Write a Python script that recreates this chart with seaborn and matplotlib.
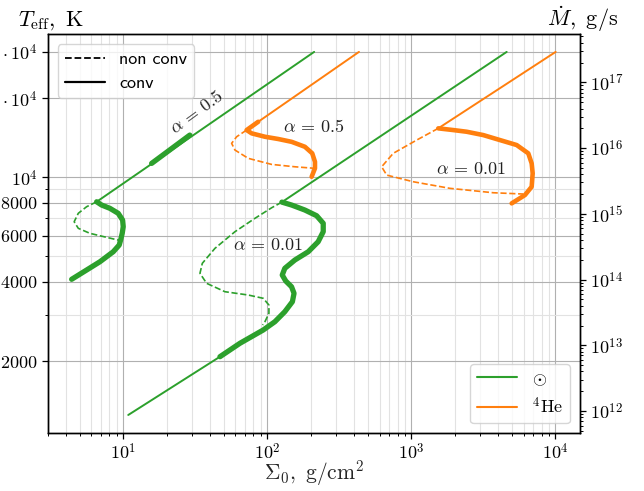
import numpy as np
import pandas as pd
import matplotlib
matplotlib.use("Agg")
import matplotlib.pyplot as plt
import seaborn as sns
from matplotlib.lines import Line2D
from matplotlib.ticker import FixedLocator, FixedFormatter, LogLocator, NullFormatter

# ---------------- data (Sigma_0 in g/cm^2, T_eff in K) ----------------
# Solar composition, alpha = 0.5
g05_thin_S = [211, 6.52]
g05_thin_T = [30000, 8075]
g05_band_S = [15.7, 28.9]
g05_band_T = [11300, 14480]
g05_conv_S = [6.52, 7.06, 8.06, 9.20, 9.87, 9.97, 9.81, 9.56, 9.35, 8.50, 6.87, 5.55, 4.37]
g05_conv_T = [8075, 7846, 7623, 7298, 6880, 6490, 6125, 5776, 5528, 5213, 4776, 4441, 4095]
g05_nonc_S = [6.52, 5.55, 4.86, 4.55, 4.86, 5.85, 7.64, 9.61]
g05_nonc_T = [8075, 7731, 7298, 6780, 6400, 6125, 5913, 5741]

# Solar composition, alpha = 0.01
g001_thin_S = [4583, 126]
g001_thin_T = [30000, 8050]
g001_low_S = [46.8, 10.8]
g001_low_T = [2079, 1248]
g001_conv_S = [126, 147.3, 182, 219.6, 244, 244, 225, 192, 155, 132, 126.7, 134, 147,
               153, 149, 132, 112.7, 93.5, 64.4, 46.8]
g001_conv_T = [8050, 7846, 7510, 7145, 6686, 6213, 5690, 5213, 4848, 4508, 4251, 4034, 3837,
               3622, 3365, 3083, 2825, 2627, 2338, 2079]
g001_nonc_S = [126, 107, 81.9, 59.5, 43.2, 35.3, 34.0, 37.8, 50.7, 73.6, 93.5, 102.4, 102.4,
               96.1, 92.6]
g001_nonc_T = [8050, 7663, 6985, 6213, 5370, 4710, 4315, 3954, 3673, 3568, 3467, 3268, 3040,
               2825, 2744]

# Helium, alpha = 0.5
he05_thin_S = [432, 86.3]
he05_thin_T = [30000, 16270]
he05_conv_S = [86.3, 71.7, 77.7, 96.1, 118.9, 147.2, 182, 204.7, 213.8, 213.8, 202.7]
he05_conv_T = [16270, 15130, 14700, 14270, 13990, 13650, 13070, 12340, 11460, 10820, 10050]
he05_nonc_S = [71.7, 61.1, 56.4, 59.5, 73.6, 107, 155.2, 213.8]
he05_nonc_T = [15130, 14270, 13470, 12700, 11810, 11200, 10970, 10820]

# Helium, alpha = 0.01
he001_thin_S = [10030, 1535]
he001_thin_T = [30000, 15360]
he001_conv_S = [1535, 1951, 2417, 3152, 4118, 5378, 6474, 6834, 6945, 6834, 6140, 4964]
he001_conv_T = [15360, 15130, 14910, 14480, 13860, 13270, 12340, 11300, 10360, 9210, 8565, 7962]
he001_nonc_S = [1535, 1087, 747, 621, 673, 1029, 1851, 3699, 5975]
he001_nonc_T = [15360, 13860, 12340, 10970, 10200, 9622, 9082, 8739, 8641]

# labels
alpha_labels = [r"$\alpha\,=\,0.5$", r"$\alpha\,=\,0.5$", r"$\alpha\,=\,0.01$", r"$\alpha\,=\,0.01$"]
alpha_S = [31.9, 208, 101.3, 2577]
alpha_T = [17710, 15570, 5528, 10730]
alpha_rot = [36, 0, 0, 0]

x_ticks = [10, 100, 1000, 10000]
x_ticklabels = [r"$10^{1}$", r"$10^{2}$", r"$10^{3}$", r"$10^{4}$"]
y_ticks = [2000, 4000, 6000, 8000, 10000, 20000, 30000]
y_ticklabels = [r"$2000$", r"$4000$", r"$6000$", r"$8000$", r"$10^4$", r"$2\cdot10^4$", r"$3\cdot10^4$"]
y_minor = [3000, 5000, 7000, 9000]
mdot_ticks = [1e12, 1e13, 1e14, 1e15, 1e16, 1e17]
mdot_ticklabels = [r"$10^{12}$", r"$10^{13}$", r"$10^{14}$", r"$10^{15}$", r"$10^{16}$", r"$10^{17}$"]

GREEN = "#2ca02c"
ORANGE = "#ff7f0e"

sns.set_style("ticks")
plt.rcParams.update({
    "font.family": ["cmr10", "DejaVu Sans"],
    "mathtext.fontset": "cm",
    "axes.formatter.use_mathtext": True,
    "font.size": 13,
    "axes.edgecolor": "black",
    "axes.linewidth": 1.0,
    "xtick.color": "black",
    "ytick.color": "black",
    "text.color": "black",
})

fig = plt.figure(figsize=(6.44, 4.91), dpi=100)
ax = fig.add_axes([47.7 / 644, 1 - 433.3 / 491, (580 - 47.7) / 644, (433.3 - 34.3) / 491])
ax.set_xscale("log")
ax.set_yscale("log")


def seg(S, T, color, lw, ls="-"):
    df = pd.DataFrame({"S": S, "T": T})
    sns.lineplot(data=df, x="S", y="T", sort=False, estimator=None, color=color,
                 linewidth=lw, linestyle=ls, ax=ax, legend=False,
                 solid_capstyle="round", solid_joinstyle="round")


THIN, DASH = 1.4, 1.2
G_THICK, O_THICK = 3.8, 3.3
# green
seg(g05_thin_S, g05_thin_T, GREEN, THIN)
seg(g05_band_S, g05_band_T, GREEN, G_THICK)
seg(g05_conv_S, g05_conv_T, GREEN, G_THICK)
seg(g05_nonc_S, g05_nonc_T, GREEN, DASH, "--")
seg(g001_thin_S, g001_thin_T, GREEN, THIN)
seg(g001_low_S, g001_low_T, GREEN, THIN)
seg(g001_conv_S, g001_conv_T, GREEN, G_THICK)
seg(g001_nonc_S, g001_nonc_T, GREEN, DASH, "--")
# orange
seg(he05_thin_S, he05_thin_T, ORANGE, THIN)
seg(he05_conv_S, he05_conv_T, ORANGE, O_THICK)
seg(he05_nonc_S, he05_nonc_T, ORANGE, DASH, "--")
seg(he001_thin_S, he001_thin_T, ORANGE, THIN)
seg(he001_conv_S, he001_conv_T, ORANGE, O_THICK)
seg(he001_nonc_S, he001_nonc_T, ORANGE, DASH, "--")

for lab, s, t, rot in zip(alpha_labels, alpha_S, alpha_T, alpha_rot):
    ax.text(s, t, lab, ha="center", va="center", rotation=rot, fontsize=13,
            color="#222222", rotation_mode="anchor")

ax.set_xlim(2.98, 1.48e4)
ax.set_ylim(1063, 3.5e4)

ax.xaxis.set_major_locator(FixedLocator(x_ticks))
ax.xaxis.set_major_formatter(FixedFormatter(x_ticklabels))
ax.xaxis.set_minor_locator(LogLocator(base=10, subs=np.arange(2, 10), numticks=20))
ax.xaxis.set_minor_formatter(NullFormatter())
ax.yaxis.set_major_locator(FixedLocator(y_ticks))
ax.yaxis.set_major_formatter(FixedFormatter(y_ticklabels))
ax.yaxis.set_minor_locator(FixedLocator(y_minor))
ax.yaxis.set_minor_formatter(NullFormatter())
ax.tick_params(which="major", length=4, width=0.9, labelsize=13)
ax.tick_params(which="minor", length=2.5, width=0.7)
ax.tick_params(axis="x", which="major", pad=2.5)

ax.grid(True, which="major", color="#b0b0b0", linewidth=0.8)
ax.grid(True, which="minor", color="#e2e2e2", linewidth=0.8)
ax.set_axisbelow(True)

ax.set_xlabel(r"$\Sigma_0,\ \mathrm{g/cm^2}$", fontsize=15.5)
ax.xaxis.set_label_coords(0.5, (433.3 - 480) / 399)
ax.xaxis.label.set_va("baseline")
ax.set_ylabel("")

# twin axis for accretion rate (Mdot ~ T^4)
T_ref = 1292.0
ax2 = ax.twinx()
ax2.set_yscale("log")
lo, hi = ax.get_ylim()
ax2.set_ylim(1e12 * (lo / T_ref) ** 4, 1e12 * (hi / T_ref) ** 4)
ax2.yaxis.set_major_locator(FixedLocator(mdot_ticks))
ax2.yaxis.set_major_formatter(FixedFormatter(mdot_ticklabels))
ax2.yaxis.set_minor_locator(LogLocator(base=10, subs=np.arange(2, 10), numticks=20))
ax2.yaxis.set_minor_formatter(NullFormatter())
ax2.tick_params(which="major", length=4, width=0.9, labelsize=13)
ax2.tick_params(which="minor", length=2.5, width=0.7)
ax2.grid(False)
for sp in ax2.spines.values():
    sp.set_edgecolor("black")

fig.text(18 / 644, 1 - 26 / 491, r"$T_\mathrm{eff},\ \mathrm{K}$", ha="left",
         va="baseline", fontsize=16)
fig.text(547 / 644, 1 - 26 / 491, r"$\dot M,\ \mathrm{g/s}$", ha="left",
         va="baseline", fontsize=16)

h1 = [Line2D([], [], color="black", lw=1.3, ls="--"),
      Line2D([], [], color="black", lw=1.6, ls="-")]
leg1 = ax2.legend(h1, ["non conv", "conv"], loc="upper left",
                  prop={"family": "cmss10", "size": 13}, handlelength=2.2,
                  borderaxespad=0.55, labelspacing=0.45)
ax2.add_artist(leg1)
h2 = [Line2D([], [], color=GREEN, lw=1.5), Line2D([], [], color=ORANGE, lw=1.5)]
ax2.legend(h2, [r"$\odot$", r"$^4\mathrm{He}$"], loc="lower right", fontsize=13,
           handlelength=2.2, borderaxespad=0.55, labelspacing=0.45)

fig.savefig("out.png", dpi=100)
